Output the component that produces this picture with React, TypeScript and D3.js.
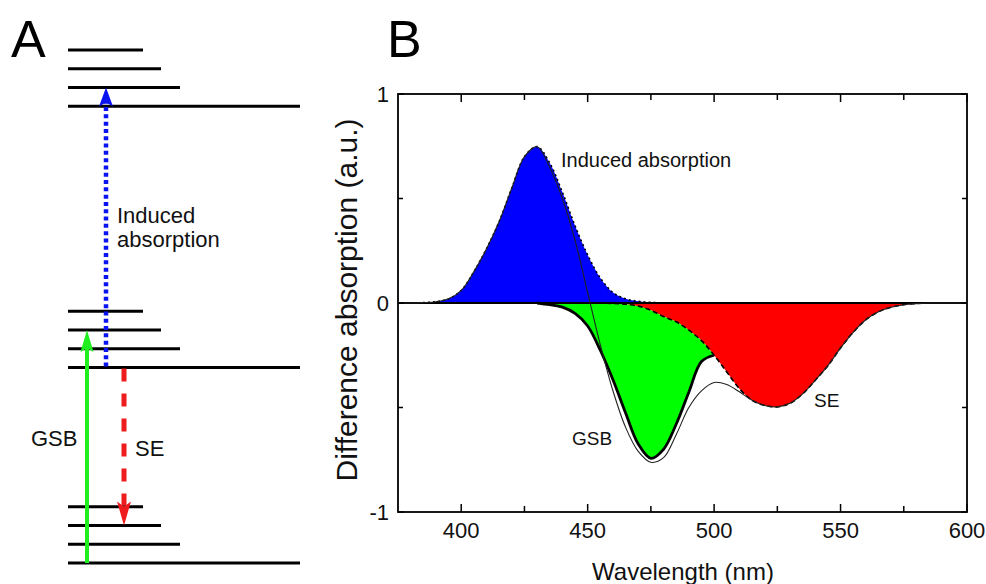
import React from 'react';
import * as d3 from 'd3';

// ---------- Panel B data ----------
const wavelengths = [375, 380, 385, 390, 395, 400, 405, 410, 415, 420, 425, 430, 435, 440, 445, 450, 455, 460, 465, 470, 475, 480, 485, 490, 495, 500, 505, 510, 515, 520, 525, 530, 535, 540, 545, 550, 555, 560, 565, 570, 575, 580, 585, 590, 595, 600];
const induced = [0, 0, 0.002, 0.006, 0.02, 0.06, 0.15, 0.26, 0.39, 0.55, 0.70, 0.748, 0.67, 0.53, 0.37, 0.23, 0.12, 0.05, 0.02, 0.008, 0.003, 0, 0, 0, 0, 0, 0, 0, 0, 0, 0, 0, 0, 0, 0, 0, 0, 0, 0, 0, 0, 0, 0, 0, 0, 0];
const gsb = [0, 0, 0, 0, 0, 0, 0, 0, 0, 0, 0, 0, -0.008, -0.02, -0.05, -0.11, -0.226, -0.365, -0.52, -0.66, -0.708, -0.635, -0.49, -0.297, -0.10, 0, 0, 0, 0, 0, 0, 0, 0, 0, 0, 0, 0, 0, 0, 0, 0, 0, 0, 0, 0, 0];
const se = [0, 0, 0, 0, 0, 0, 0, 0, 0, 0, 0, 0, 0, 0, 0, 0, 0, -0.002, -0.006, -0.015, -0.035, -0.065, -0.09, -0.13, -0.18, -0.25, -0.33, -0.41, -0.465, -0.49, -0.497, -0.48, -0.435, -0.37, -0.30, -0.215, -0.14, -0.08, -0.042, -0.02, -0.008, -0.003, 0, 0, 0, 0];
const total = [0, 0, 0.002, 0.006, 0.02, 0.06, 0.15, 0.26, 0.39, 0.55, 0.70, 0.748, 0.65, 0.50, 0.30, 0.05, -0.20, -0.42, -0.595, -0.71, -0.762, -0.74, -0.63, -0.50, -0.42, -0.38, -0.39, -0.425, -0.465, -0.49, -0.497, -0.48, -0.435, -0.37, -0.30, -0.215, -0.14, -0.08, -0.042, -0.02, -0.008, -0.003, 0, 0, 0, 0];

const xTicksMajor = [400, 450, 500, 550, 600];
const xTicksMinor = [425, 475, 525, 575];
const yTicksMajor = [-1, 0, 1];
const yTicksMinor = [-0.5, 0.5];

// ---------- Panel A data (energy levels, arbitrary units) ----------
const groundLevels = [0, 1, 2, 3];
const excitedLevels = [10.4, 11.4, 12.4, 13.4];
const higherLevels = [24.3, 25.3, 26.3, 27.3];

const FONT = "'Liberation Sans', Arial, Helvetica, sans-serif";

export default function App() {
  // Panel B scales
  const x = d3.scaleLinear().domain([375, 600]).range([398, 967]);
  const y = d3.scaleLinear().domain([-1, 1]).range([512, 94]);
  const idx = wavelengths.map((_, i) => i);
  const curve = d3.curveCatmullRom.alpha(0.5);

  const blueArea = d3.area<number>().x(i => x(wavelengths[i])).y0(() => y(0)).y1(i => y(induced[i])).curve(curve)(idx) || '';
  const redArea = d3.area<number>().x(i => x(wavelengths[i])).y0(() => y(0)).y1(i => y(se[i])).curve(curve)(idx) || '';
  const gsbIdx = idx.filter(i => wavelengths[i] >= 430 && wavelengths[i] <= 500);
  const greenArea = d3.area<number>().x(i => x(wavelengths[i])).y0(i => y(se[i])).y1(i => y(se[i] + gsb[i])).curve(curve)(gsbIdx) || '';

  const iaLine = d3.line<number>().x(i => x(wavelengths[i])).y(i => y(induced[i])).curve(curve)(idx) || '';
  const seLine = d3.line<number>().x(i => x(wavelengths[i])).y(i => y(se[i])).curve(curve)(idx) || '';
  const gsbLine = d3.line<number>().x(i => x(wavelengths[i])).y(i => y(se[i] + gsb[i])).curve(curve)(gsbIdx) || '';
  const totalLine = d3.line<number>().x(i => x(wavelengths[i])).y(i => y(total[i])).curve(curve)(idx) || '';

  // Panel A scale
  const yA = d3.scaleLinear().domain([0, 27.3]).range([563, 50]);
  const levelEnds = [300, 180, 161, 143];
  const levelStart = 68;

  const iaX = 106, gsbX = 87, seX = 124;
  const iaTip = yA(higherLevels[1]);
  const gsbTip = yA(excitedLevels[2]);
  const seTip = yA(groundLevels[2]);

  const [x0, x1] = x.range();
  const [yb, yt] = y.range();

  return (
    <svg width={986} height={584} style={{ position: 'absolute', left: 0, top: 0, background: '#fff' }} fontFamily={FONT}>
      <rect x={0} y={0} width={986} height={584} fill="#fff" />
      {/* ---------- Panel A ---------- */}
      <text x={11} y={57} fontSize={52} fill="#000">A</text>
      {[groundLevels, excitedLevels, higherLevels].map((grp, g) =>
        grp.map((e, v) => (
          <line key={`l${g}-${v}`} x1={levelStart} x2={levelEnds[v]} y1={yA(e)} y2={yA(e)} stroke="#000" strokeWidth={3} />
        ))
      )}
      {/* Induced absorption arrow (blue dotted) */}
      <line x1={iaX} x2={iaX} y1={yA(excitedLevels[0]) - 1} y2={iaTip + 14} stroke="#0a14f0" strokeWidth={4.5} strokeDasharray="4,3.3" />
      <path d={`M${iaX},${iaTip} L${iaX + 7},${iaTip + 19} L${iaX},${iaTip + 15} L${iaX - 7},${iaTip + 19} Z`} fill="#0a14f0" />
      {/* GSB arrow (green solid) */}
      <line x1={gsbX} x2={gsbX} y1={yA(groundLevels[0])} y2={gsbTip + 16} stroke="#1fef1f" strokeWidth={4} />
      <path d={`M${gsbX},${gsbTip} L${gsbX + 6.5},${gsbTip + 22} L${gsbX},${gsbTip + 18} L${gsbX - 6.5},${gsbTip + 22} Z`} fill="#1fef1f" />
      {/* SE arrow (red dashed) */}
      <line x1={seX} x2={seX} y1={yA(excitedLevels[0]) + 1} y2={seTip - 20} stroke="#ee1c1c" strokeWidth={5} strokeDasharray="13,12" />
      <path d={`M${seX},${seTip} L${seX + 7},${seTip - 24} L${seX},${seTip - 19} L${seX - 7},${seTip - 24} Z`} fill="#ee1c1c" />
      <text x={117} y={223} fontSize={22} fill="#111">Induced</text>
      <text x={117} y={247} fontSize={22} fill="#111">absorption</text>
      <text x={31} y={446} fontSize={22} fill="#111">GSB</text>
      <text x={135} y={456} fontSize={22} fill="#111">SE</text>

      {/* ---------- Panel B ---------- */}
      <text x={387} y={57} fontSize={52} fill="#000">B</text>
      <defs>
        <clipPath id="plotClip">
          <rect x={x0} y={yt} width={x1 - x0} height={yb - yt} />
        </clipPath>
      </defs>
      <g clipPath="url(#plotClip)">
        <path d={blueArea} fill="#0000ff" />
        <path d={redArea} fill="#ff0000" />
        <path d={greenArea} fill="#00ff00" />
        <line x1={x0} x2={x1} y1={y(0)} y2={y(0)} stroke="#000" strokeWidth={2} />
        <path d={iaLine} fill="none" stroke="#000" strokeWidth={1.6} strokeDasharray="2,3" />
        <path d={seLine} fill="none" stroke="#000" strokeWidth={1.6} strokeDasharray="5,3" />
        <path d={gsbLine} fill="none" stroke="#000" strokeWidth={2.8} />
        <path d={totalLine} fill="none" stroke="#222" strokeWidth={1.1} />
      </g>
      {/* frame */}
      <rect x={x0} y={yt} width={x1 - x0} height={yb - yt} fill="none" stroke="#000" strokeWidth={1.8} />
      {/* x ticks */}
      {xTicksMajor.map(t => (
        <g key={`xM${t}`}>
          <line x1={x(t)} x2={x(t)} y1={yb} y2={yb - 8} stroke="#000" strokeWidth={1.5} />
          <line x1={x(t)} x2={x(t)} y1={yt} y2={yt + 8} stroke="#000" strokeWidth={1.5} />
          <text x={x(t)} y={538} fontSize={22} textAnchor="middle" fill="#111">{t}</text>
        </g>
      ))}
      {xTicksMinor.map(t => (
        <g key={`xm${t}`}>
          <line x1={x(t)} x2={x(t)} y1={yb} y2={yb - 6} stroke="#000" strokeWidth={1.5} />
          <line x1={x(t)} x2={x(t)} y1={yt} y2={yt + 6} stroke="#000" strokeWidth={1.5} />
        </g>
      ))}
      {yTicksMajor.map(t => (
        <g key={`yM${t}`}>
          <line x1={x0} x2={x0 + 6} y1={y(t)} y2={y(t)} stroke="#000" strokeWidth={1.5} />
          <line x1={x1} x2={x1 - 6} y1={y(t)} y2={y(t)} stroke="#000" strokeWidth={1.5} />
          <text x={389} y={y(t) + 8} fontSize={22} textAnchor="end" fill="#111">{t}</text>
        </g>
      ))}
      {yTicksMinor.map(t => (
        <g key={`ym${t}`}>
          <line x1={x0} x2={x0 + 5} y1={y(t)} y2={y(t)} stroke="#000" strokeWidth={1.5} />
          <line x1={x1} x2={x1 - 5} y1={y(t)} y2={y(t)} stroke="#000" strokeWidth={1.5} />
        </g>
      ))}
      {/* axis titles */}
      <text x={683} y={580} fontSize={24} textAnchor="middle" fill="#111">Wavelength (nm)</text>
      <text transform="translate(357,300) rotate(-90)" fontSize={30} textAnchor="middle" fill="#111">Difference absorption (a.u.)</text>
      {/* annotations */}
      <text x={561} y={167} fontSize={20} fill="#111">Induced absorption</text>
      <text x={572} y={445} fontSize={19} fill="#111">GSB</text>
      <text x={814} y={407} fontSize={19} fill="#111">SE</text>
    </svg>
  );
}
